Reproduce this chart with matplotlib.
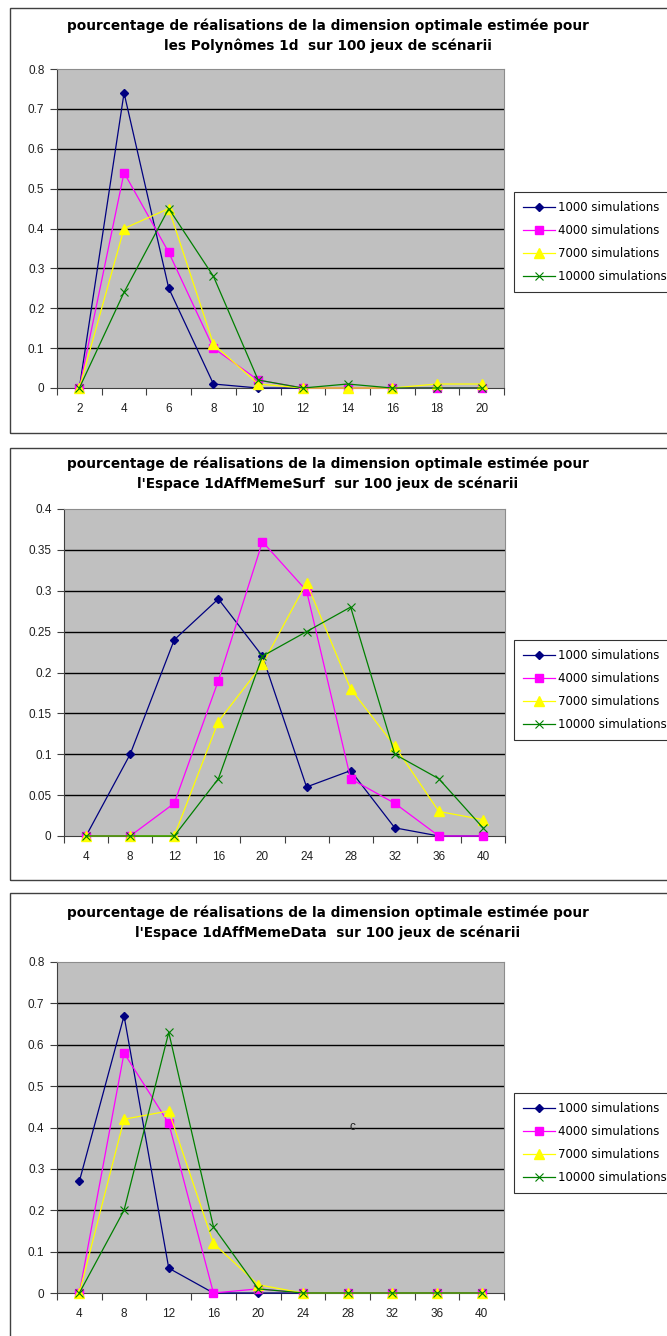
import numpy as np
import matplotlib
matplotlib.use("Agg")
import matplotlib.pyplot as plt
from matplotlib.patches import Rectangle

plt.rcParams["font.family"] = ["Liberation Sans", "DejaVu Sans"]

# ---------------------------------------------------------------------------
# Données
# ---------------------------------------------------------------------------
series_names = ["1000 simulations", "4000 simulations", "7000 simulations", "10000 simulations"]

titles = [
    "pourcentage de réalisations de la dimension optimale estimée pour\nles Polynômes 1d  sur 100 jeux de scénarii",
    "pourcentage de réalisations de la dimension optimale estimée pour\nl'Espace 1dAffMemeSurf  sur 100 jeux de scénarii",
    "pourcentage de réalisations de la dimension optimale estimée pour\nl'Espace 1dAffMemeData  sur 100 jeux de scénarii",
]

dims_poly = [2, 4, 6, 8, 10, 12, 14, 16, 18, 20]
poly_1000 = [0, 0.74, 0.25, 0.01, 0, 0, 0, 0, 0, 0]
poly_4000 = [0, 0.54, 0.34, 0.10, 0.02, 0, 0, 0, 0, 0]
poly_7000 = [0, 0.40, 0.45, 0.11, 0.01, 0, 0, 0, 0.01, 0.01]
poly_10000 = [0, 0.24, 0.45, 0.28, 0.02, 0, 0.01, 0, 0, 0]

dims_esp = [4, 8, 12, 16, 20, 24, 28, 32, 36, 40]
surf_1000 = [0, 0.10, 0.24, 0.29, 0.22, 0.06, 0.08, 0.01, 0, 0]
surf_4000 = [0, 0, 0.04, 0.19, 0.36, 0.30, 0.07, 0.04, 0, 0]
surf_7000 = [0, 0, 0, 0.14, 0.21, 0.31, 0.18, 0.11, 0.03, 0.02]
surf_10000 = [0, 0, 0, 0.07, 0.22, 0.25, 0.28, 0.10, 0.07, 0.01]

data_1000 = [0.27, 0.67, 0.06, 0, 0, 0, 0, 0, 0, 0]
data_4000 = [0, 0.58, 0.41, 0, 0.01, 0, 0, 0, 0, 0]
data_7000 = [0, 0.42, 0.44, 0.12, 0.02, 0, 0, 0, 0, 0]
data_10000 = [0, 0.20, 0.63, 0.16, 0.01, 0, 0, 0, 0, 0]

ymax = [0.8, 0.4, 0.8]
ystep = [0.1, 0.05, 0.1]

# ---------------------------------------------------------------------------
# Mise en page (pixels)
# ---------------------------------------------------------------------------
W, H = 667, 1336
fig = plt.figure(figsize=(W / 100, H / 100), dpi=100)
fig.patch.set_facecolor("white")


def fbox(left, top, right, bottom):
    return [left / W, 1 - bottom / H, (right - left) / W, (bottom - top) / H]


styles = [
    dict(color="#000080", marker="D", markersize=4.5, mfc="#000080", mec="#000080"),
    dict(color="#FF00FF", marker="s", markersize=5.5, mfc="#FF00FF", mec="#FF00FF"),
    dict(color="#FFFF00", marker="^", markersize=6.5, mfc="#FFFF00", mec="#FFFF00"),
    dict(color="#008000", marker="x", markersize=6, mfc="none", mec="#008000", mew=0.8),
]

panels = [
    dict(frame=(10, 8, 720, 433), title_y=36, plot=(57, 69, 504, 388), legend_top=192,
         dims=dims_poly, ys=[poly_1000, poly_4000, poly_7000, poly_10000]),
    dict(frame=(10, 448, 720, 880), title_y=474, plot=(64, 509, 505, 836), legend_top=640,
         dims=dims_esp, ys=[surf_1000, surf_4000, surf_7000, surf_10000]),
    dict(frame=(10, 893, 720, 1400), title_y=923, plot=(57, 962, 504, 1293), legend_top=1093,
         dims=dims_esp, ys=[data_1000, data_4000, data_7000, data_10000]),
]

for i, p in enumerate(panels):
    l, t, r, b = p["frame"]
    fig.patches.append(Rectangle((l / W, 1 - b / H), (r - l) / W, (b - t) / H,
                                 transform=fig.transFigure, fill=False,
                                 edgecolor="#404040", linewidth=1.0))
    fig.text(0.5 * (65 + 590) / W, 1 - p["title_y"] / H, titles[i], ha="center", va="center",
             fontsize=9.8, fontweight="bold", linespacing=1.5, family="DejaVu Sans")

    ax = fig.add_axes(fbox(*p["plot"]))
    ax.set_facecolor("#C0C0C0")
    x = np.arange(len(p["dims"]))
    handles = []
    for ys, name, st in zip(p["ys"], series_names, styles):
        h, = ax.plot(x, ys, linewidth=0.9, label=name, clip_on=False, zorder=3, **st)
        handles.append(h)

    ax.set_xlim(-0.5, len(x) - 0.5)
    ax.set_ylim(0, ymax[i])
    yt = np.round(np.arange(0, ymax[i] + 1e-9, ystep[i]), 2)
    ax.set_yticks(yt)
    ax.set_yticklabels([f"{v:g}" for v in yt])
    for v in yt[1:-1]:
        ax.axhline(v, color="black", linewidth=1.0, zorder=1)

    # graduations entre catégories, libellés au centre
    ax.set_xticks(np.arange(-0.5, len(x), 1.0))
    ax.set_xticklabels([])
    ax.set_xticks(x, minor=True)
    ax.set_xticklabels([str(d) for d in p["dims"]], minor=True)
    ax.tick_params(axis="x", which="major", direction="out", length=5, width=0.8, color="#404040")
    ax.tick_params(axis="x", which="minor", length=0, pad=11, labelsize=8.5, labelcolor="#202020")
    ax.tick_params(axis="y", direction="out", length=5, width=0.8, color="#404040",
                   labelsize=8.5, labelcolor="#202020", pad=4)

    for side in ("top", "right"):
        ax.spines[side].set_color("#8c8c8c")
        ax.spines[side].set_linewidth(0.8)
    for side in ("left", "bottom"):
        ax.spines[side].set_color("#404040")
        ax.spines[side].set_linewidth(0.8)

    leg = fig.legend(handles=handles, loc="upper left",
                     bbox_to_anchor=(514 / W, 1 - p["legend_top"] / H),
                     prop={"family": "DejaVu Sans", "size": 8.5}, frameon=True,
                     fancybox=False, handlelength=2.7, handletextpad=0.3,
                     borderpad=0.75, labelspacing=0.85, borderaxespad=0)
    leg.get_frame().set_edgecolor("black")
    leg.get_frame().set_linewidth(0.8)

    if i == 2:
        ax.text(6.1, 0.4, "c", fontsize=8.5, ha="center", va="center", color="#202020")

fig.savefig("out.png", dpi=100)
